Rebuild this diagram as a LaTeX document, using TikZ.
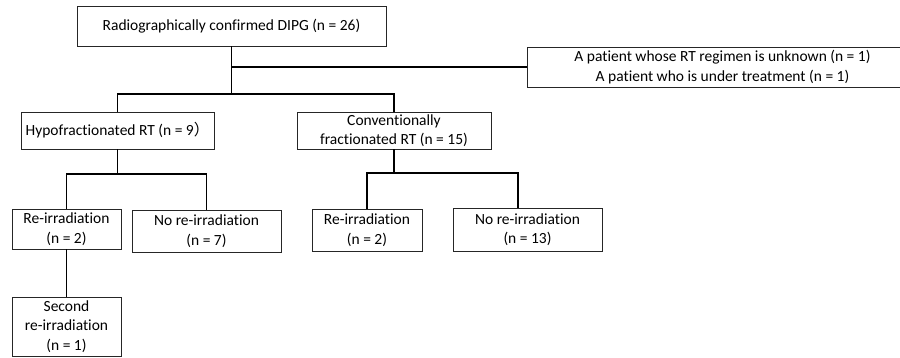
\documentclass[tikz,border=0pt]{standalone}
\usepackage{fontspec}
\setmainfont{Carlito}[Ligatures=NoCommon]
\newfontfamily\cjk{Noto Sans CJK JP}
\begin{document}
\begin{tikzpicture}[x=1pt,y=-1pt,
  box/.style={draw=black!85, line width=0.9pt, inner sep=0pt, align=center,
    font=\fontsize{15.5}{19.5}\selectfont},
  conn/.style={line width=1.2pt, black}]
\useasboundingbox (0,0) rectangle (900,358);
\node[box, minimum width=309pt, minimum height=40pt] (top) at (231.5,26) {Radiographically confirmed DIPG (n = 26)};
\node[box, minimum width=391pt, minimum height=40pt] (excl) at (722.5,67) {A patient whose RT regimen is unknown (n = 1)\\A patient who is under treatment (n = 1)};
\node[box, minimum width=193pt, minimum height=37pt] (hypo) at (117.5,130.5) {Hypofractionated RT (n = 9{\cjk ）}};
\node[box, minimum width=194pt, minimum height=37pt] (conv) at (394,130.5) {Conventionally\\fractionated RT (n = 15)};
\node[box, minimum width=109pt, minimum height=40pt] (reA) at (66.5,229) {Re-irradiation\\(n = 2)};
\node[box, minimum width=149pt, minimum height=42pt] (noA) at (206.5,231) {No re-irradiation\\(n = 7)};
\node[box, minimum width=109pt, minimum height=59pt] (sec) at (66.5,326.5) {Second\\re-irradiation\\(n = 1)};
\node[box, minimum width=110pt, minimum height=42pt] (reB) at (367,230) {Re-irradiation\\(n = 2)};
\node[box, minimum width=149pt, minimum height=43pt] (noB) at (527.5,229.5) {No re-irradiation\\(n = 13)};
\coordinate (j1) at (231.5,94);
\coordinate (j2) at (117.5,174);
\coordinate (j3) at (394,173);
\draw[conn] (top.south) -- (j1);
\draw[conn] (top.south |- excl.west) -- (excl.west);
\draw[conn] (hypo.north) |- (j1) -| (conv.north);
\draw[conn] (hypo.south) -- (j2);
\draw[conn] (reA.north) |- (j2) -| (noA.north);
\draw[conn] (conv.south) -- (j3);
\draw[conn] (reB.north) |- (j3) -| ([xshift=-9.5pt]noB.north);
\draw[conn] (reA.south) -- (sec.north);
\end{tikzpicture}
\end{document}
